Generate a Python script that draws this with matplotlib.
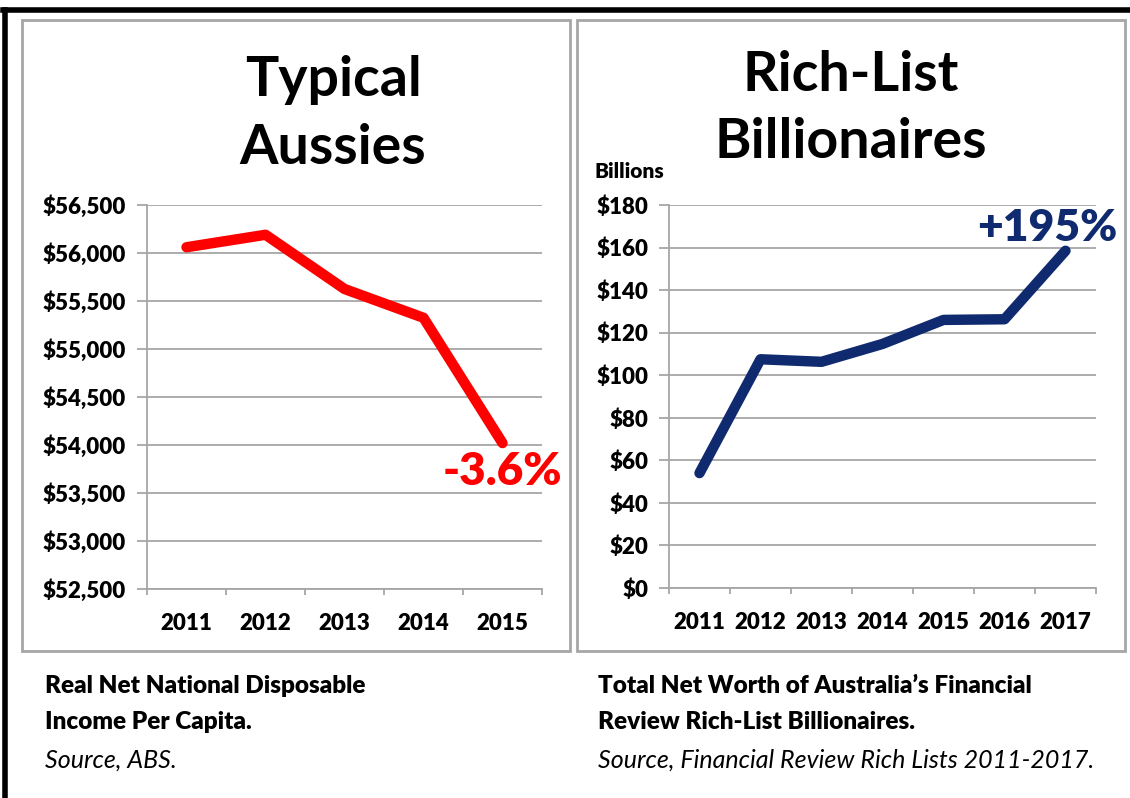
import numpy as np
import matplotlib.pyplot as plt
from matplotlib.patches import Rectangle
from matplotlib.lines import Line2D
from matplotlib.ticker import FuncFormatter

plt.rcParams['font.family'] = ['Lato', 'DejaVu Sans']

# Данные: доход на душу населения (ABS)
years_income = ['2011', '2012', '2013', '2014', '2015']
income = [56060, 56190, 55625, 55325, 54020]

# Данные: состояние миллиардеров, $ млрд
years_rich = ['2011', '2012', '2013', '2014', '2015', '2016', '2017']
wealth = [54, 107.5, 106.3, 114.7, 126, 126.3, 158.5]

W, H = 1130, 798
fig = plt.figure(figsize=(W / 100, H / 100), dpi=100)
fig.patch.set_facecolor('white')
BOLD = 'heavy'


def fx(px):
    return px / W


def fy(py):
    return 1 - py / H


def panel_box(x0, y0, x1, y1):
    fig.patches.append(Rectangle((fx(x0), fy(y1)), fx(x1 - x0), (y1 - y0) / H,
                                 transform=fig.transFigure, fill=False,
                                 edgecolor='#a6a6a6', lw=2))


# внешняя рамка
fig.lines.append(Line2D([fx(5), fx(5)], [fy(798), fy(10)], transform=fig.transFigure,
                        color='black', lw=4))
fig.lines.append(Line2D([fx(3), fx(1130)], [fy(10), fy(10)], transform=fig.transFigure,
                        color='black', lw=4))
panel_box(22, 20, 570, 651)
panel_box(577, 20, 1125, 651)

grid_c = '#a6a6a6'


def style_axes(ax, n):
    ax.set_xlim(-0.5, n - 0.5)
    for s in ['top', 'right']:
        ax.spines[s].set_visible(False)
    for s in ['left', 'bottom']:
        ax.spines[s].set_color(grid_c)
        ax.spines[s].set_linewidth(1.3)
    ax.yaxis.grid(True, color=grid_c, lw=1.3)
    ax.set_axisbelow(True)
    ax.set_xticks(np.arange(-0.5, n, 1.0))
    ax.set_xticklabels([])
    ax.tick_params(axis='x', which='major', length=4, width=1.3, color=grid_c, direction='out')
    ax.tick_params(axis='y', length=7, width=1.3, color=grid_c, pad=8, labelsize=16)
    for t in ax.get_yticklabels():
        t.set_fontweight(BOLD)


# левый график
ax1 = fig.add_axes([fx(147), fy(589), fx(542 - 147), (589 - 205) / H])
x1 = np.arange(len(years_income))
ax1.plot(x1, income, color='#ff0000', lw=7.5, solid_capstyle='round', solid_joinstyle='round')
ax1.set_ylim(52500, 56500)
ax1.set_yticks(np.arange(52500, 56501, 500))
ax1.yaxis.set_major_formatter(FuncFormatter(lambda v, p: f'${v:,.0f}'))
style_axes(ax1, len(years_income))
ax1.set_xticks(x1, minor=True)
ax1.set_xticklabels(years_income, minor=True, fontsize=16, fontweight=BOLD)
ax1.tick_params(axis='x', which='minor', length=0, pad=17)
ax1.annotate('-3.6%', (x1[-1], income[-1]), xytext=(0, -6), textcoords='offset points',
             color='#ff0000', fontsize=33, fontweight=BOLD, ha='center', va='top')

# правый график
ax2 = fig.add_axes([fx(669), fy(588), fx(1096 - 669), (588 - 205) / H])
x2 = np.arange(len(years_rich))
ax2.plot(x2, wealth, color='#0f2a6e', lw=7.5, solid_capstyle='round', solid_joinstyle='round')
ax2.set_ylim(0, 180)
ax2.set_yticks(np.arange(0, 181, 20))
ax2.yaxis.set_major_formatter(FuncFormatter(lambda v, p: f'${v:.0f}'))
style_axes(ax2, len(years_rich))
ax2.set_xticks(x2, minor=True)
ax2.set_xticklabels(years_rich, minor=True, fontsize=16, fontweight=BOLD)
ax2.tick_params(axis='x', which='minor', length=0, pad=17)
ax2.annotate('+195%', (x2[-1], wealth[-1]), xytext=(-13, 2), textcoords='offset points',
             color='#0f2a6e', fontsize=32, fontweight=BOLD, ha='center', va='bottom')

# заголовки
fig.text(fx(333), fy(80), 'Typical', fontsize=40, fontweight='bold', ha='center', va='center')
fig.text(fx(333), fy(148), 'Aussies', fontsize=40, fontweight='bold', ha='center', va='center')
fig.text(fx(851), fy(75), 'Rich-List', fontsize=40, fontweight='bold', ha='center', va='center')
fig.text(fx(851), fy(142), 'Billionaires', fontsize=40, fontweight='bold', ha='center', va='center')
fig.text(fx(595), fy(171), 'Billions', fontsize=15, fontweight=BOLD, ha='left', va='center')

# подписи снизу
fs = 17.5
fig.text(fx(45), fy(686), 'Real Net National Disposable', fontsize=fs, fontweight=BOLD, va='center')
fig.text(fx(45), fy(722), 'Income Per Capita.', fontsize=fs, fontweight=BOLD, va='center')
fig.text(fx(45), fy(760), 'Source, ABS.', fontsize=18, style='italic', va='center')
fig.text(fx(598), fy(686), 'Total Net Worth of Australia\u2019s Financial', fontsize=fs,
         fontweight=BOLD, va='center')
fig.text(fx(598), fy(722), 'Review Rich-List Billionaires.', fontsize=fs, fontweight=BOLD,
         va='center')
fig.text(fx(598), fy(760), 'Source, Financial Review Rich Lists 2011-2017.', fontsize=18,
         style='italic', va='center')

fig.savefig('out.png', dpi=100)
